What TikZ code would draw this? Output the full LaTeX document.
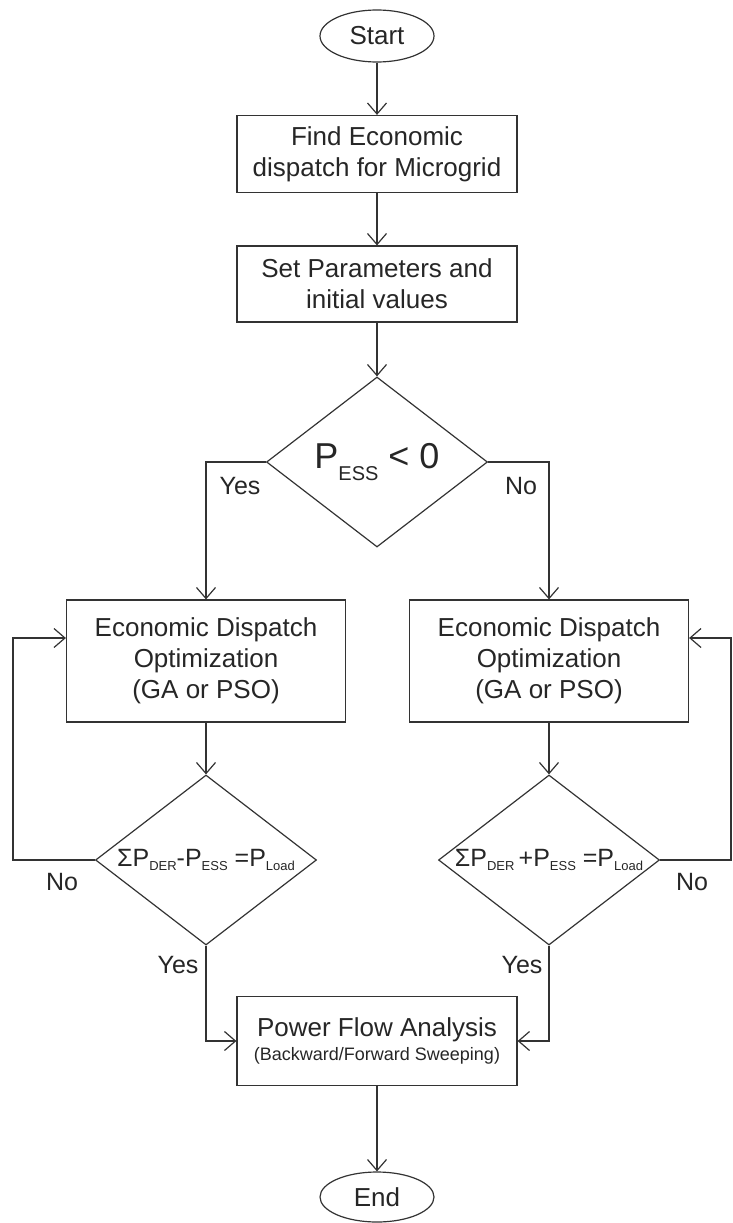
\documentclass[tikz,border=0pt]{standalone}
\usepackage{fontspec}
\setmainfont{Liberation Sans}
\usetikzlibrary{shapes.geometric,arrows.meta}
\newcommand{\subtxt}[2][-4pt]{\raisebox{#1}{\fontsize{13}{13}\selectfont #2}}

\begin{document}
\begin{tikzpicture}[x=1pt,y=-1pt,
    flowline/.style={draw=black!80, line width=1.2pt, -{Straight Barb[length=11pt,width=19pt]}},
    procbox/.style={draw=black!80, line width=1.2pt, rectangle, minimum width=280pt, align=center,
        inner sep=0pt, text=black!85, font=\fontsize{26}{31}\selectfont},
    decision/.style={draw=black!80, line width=1.2pt, diamond, aspect=1.3, minimum width=221pt,
        minimum height=170pt, inner sep=0pt, text=black!85},
    terminal/.style={draw=black!80, line width=1.2pt, ellipse, minimum width=114pt, minimum height=52pt,
        inner sep=0pt, text=black!85, font=\fontsize{26}{30}\selectfont},
    lbl/.style={text=black!85, font=\fontsize{25}{28}\selectfont, inner sep=0pt}]
    \useasboundingbox (0,0) rectangle (733,1223);

    \node[terminal] (start) at (377,36) {Start};
    \node[procbox, minimum height=77pt] (econ) at (377,154) {Find Economic\\dispatch for Microgrid};
    \node[procbox, minimum height=76pt] (param) at (377,284) {Set Parameters and\\initial values};
    \node[decision] (ess) at (377,462)
        {\fontsize{36}{36}\selectfont P\raisebox{-12pt}{\fontsize{20}{20}\selectfont ESS} < 0};

    \node[procbox, minimum width=279pt, minimum height=122pt] (optL) at (206,661)
        {Economic Dispatch\\Optimization\\(GA or PSO)};
    \node[procbox, minimum width=279pt, minimum height=122pt] (optR) at (549,661)
        {Economic Dispatch\\Optimization\\(GA or PSO)};

    \node[decision] (balL) at (206,860)
        {\fontsize{25}{25}\selectfont ΣP\subtxt{DER}-P\subtxt{ESS} =P\subtxt{Load}};
    \node[decision] (balR) at (549,860)
        {\fontsize{25}{25}\selectfont ΣP\subtxt{DER}\,+P\subtxt{ESS} =P\subtxt{Load}};

    \node[procbox, minimum height=89pt] (pf) at (377,1041)
        {Power Flow Analysis\\[-7pt]{\fontsize{18}{24}\selectfont (Backward/Forward Sweeping)}};
    \node[terminal, minimum height=50pt] (stop) at (377,1197) {End};

    \coordinate (loopL) at (13,860); % Rueckfuehrung links
    \coordinate (loopR) at (731,860); % Rueckfuehrung rechts

    \draw[flowline] (start) -- (econ);
    \draw[flowline] (econ) -- (param);
    \draw[flowline] (param) -- (ess);
    \draw[flowline] (ess.west) -| (optL.north);
    \draw[flowline] (ess.east) -| (optR.north);
    \draw[flowline] (optL) -- (balL);
    \draw[flowline] (optR) -- (balR);
    \draw[flowline] (balL.west) -- (loopL) |- ([yshift=23pt]optL.west);
    \draw[flowline] (balR.east) -- (loopR) |- ([yshift=23pt]optR.east);
    \draw[flowline] (balL.south) |- (pf.west);
    \draw[flowline] (balR.south) |- (pf.east);
    \draw[flowline] (pf) -- (stop);

    \node[lbl] (yesTop) at (240,486) {Yes};
    \node[lbl] (noTop) at (521,486) {No};
    \node[lbl] (noL) at (62,882) {No};
    \node[lbl] (noR) at (692,882) {No};
    \node[lbl] (yesL) at (178,965) {Yes};
    \node[lbl] (yesR) at (522,965) {Yes};
\end{tikzpicture}
\end{document}
